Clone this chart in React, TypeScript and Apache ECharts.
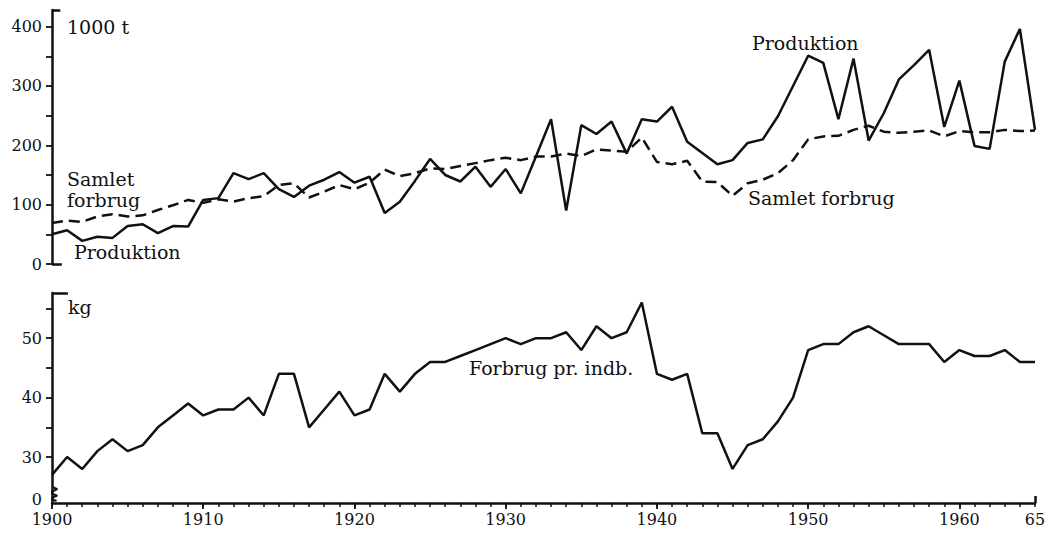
import React, { useEffect, useRef } from "react";
import * as echarts from "echarts";

const years = [
  1900, 1901, 1902, 1903, 1904, 1905, 1906, 1907, 1908, 1909,
  1910, 1911, 1912, 1913, 1914, 1915, 1916, 1917, 1918, 1919,
  1920, 1921, 1922, 1923, 1924, 1925, 1926, 1927, 1928, 1929,
  1930, 1931, 1932, 1933, 1934, 1935, 1936, 1937, 1938, 1939,
  1940, 1941, 1942, 1943, 1944, 1945, 1946, 1947, 1948, 1949,
  1950, 1951, 1952, 1953, 1954, 1955, 1956, 1957, 1958, 1959,
  1960, 1961, 1962, 1963, 1964, 1965,
];

// Produktion, 1000 t
const produktion = [
  50, 57, 39, 46, 44, 64, 67, 52, 64, 63,
  108, 111, 153, 143, 153, 126, 113, 132, 142, 155,
  137, 147, 86, 105, 140, 177, 150, 139, 164, 130,
  160, 119, 181, 244, 90, 234, 219, 240, 186, 244,
  240, 265, 206, 187, 168, 175, 204, 210, 249, 300,
  351, 339, 244, 346, 208, 254, 311, 335, 361, 231,
  309, 199, 194, 341, 396, 226,
];

// Samlet forbrug, 1000 t
const samletForbrug = [
  69, 73, 71, 80, 84, 80, 82, 91, 99, 108,
  103, 109, 105, 111, 114, 133, 136, 112, 122, 133,
  126, 137, 159, 148, 153, 161, 160, 165, 170, 175,
  179, 175, 181, 181, 186, 182, 193, 191, 189, 213,
  172, 168, 174, 139, 138, 115, 136, 142, 153, 175,
  210, 215, 216, 226, 233, 223, 221, 223, 225, 215,
  224, 222, 222, 226, 224, 225,
];

// Forbrug pr. indbygger, kg
const forbrugPrIndb = [
  27, 30, 28, 31, 33, 31, 32, 35, 37, 39,
  37, 38, 38, 40, 37, 44, 44, 35, 38, 41,
  37, 38, 44, 41, 44, 46, 46, 47, 48, 49,
  50, 49, 50, 50, 51, 48, 52, 50, 51, 56,
  44, 43, 44, 34, 34, 28, 32, 33, 36, 40,
  48, 49, 49, 51, 52, 50.5, 49, 49, 49, 46,
  48, 47, 47, 48, 46, 46,
];

const topTickLabels = [0, 100, 200, 300, 400];
const topTicks = [0, 50, 100, 150, 200, 250, 300, 350, 400];
const bottomTickLabels = [30, 40, 50];
const bottomTicks = [30, 35, 40, 45, 50, 55];
const decadeLabels = [1900, 1910, 1920, 1930, 1940, 1950, 1960, 1965];
const decades = [1900, 1910, 1920, 1930, 1940, 1950, 1960];

const TOP_MAX = 428;
const BOT_MIN = 22.27;
const BOT_MAX = 57.6;
const BOT_ZERO_LABEL = 22.85; // where the "0" of the broken axis is written

const FONT = '"DejaVu Serif", serif';
const INK = "#111";

export default function App() {
  const ref = useRef<HTMLDivElement>(null);

  useEffect(() => {
    if (!ref.current) return;
    const chart = echarts.init(ref.current, null, { renderer: "svg" });

    const tickLabel = { color: INK, fontFamily: FONT, fontSize: 16 };
    const bracketStyle = { color: INK, width: 2.5, type: "solid" as const };

    const option: any = {
      animation: false,
      backgroundColor: "#fff",
      grid: [
        { left: 52, right: 22, top: 10, height: 254 },
        { left: 52, right: 22, top: 293, height: 210 },
      ],
      xAxis: [
        { gridIndex: 0, type: "value", min: 1900, max: 1965, show: false },
        {
          gridIndex: 1, type: "value", min: 1900, max: 1965, position: "bottom",
          axisLine: { show: true, lineStyle: { color: INK, width: 2.5 } },
          axisTick: { show: true, customValues: years, length: 4, lineStyle: { color: INK, width: 1.5 } },
          axisLabel: {
            ...tickLabel, margin: 8, customValues: decadeLabels,
            formatter: (v: number) => (v === 1965 ? "65" : String(v)),
          },
          splitLine: { show: false },
        },
        {
          gridIndex: 1, type: "value", min: 1900, max: 1965, position: "bottom", offset: 0,
          axisLine: { show: false },
          axisTick: { show: true, customValues: decades, length: 6, lineStyle: { color: INK, width: 1.8 } },
          axisLabel: { show: false },
          splitLine: { show: false },
        },
        {
          gridIndex: 1, type: "value", min: 1900, max: 1965, position: "bottom", offset: 0,
          axisLine: { show: false },
          axisTick: { show: true, inside: true, customValues: [1965], length: 7, lineStyle: { color: INK, width: 2.5 } },
          axisLabel: { show: false },
          splitLine: { show: false },
        },
      ],
      yAxis: [
        {
          gridIndex: 0, type: "value", min: 0, max: TOP_MAX,
          axisLine: { show: true, lineStyle: { color: INK, width: 2.5 } },
          axisTick: { show: true, customValues: topTicks, length: 6, lineStyle: { color: INK, width: 1.8 } },
          axisLabel: { ...tickLabel, margin: 10, customValues: topTickLabels },
          splitLine: { show: false },
        },
        {
          gridIndex: 1, type: "value", min: BOT_MIN, max: BOT_MAX,
          axisLine: { show: true, lineStyle: { color: INK, width: 2.5 } },
          axisTick: { show: true, customValues: bottomTicks, length: 6, lineStyle: { color: INK, width: 1.8 } },
          axisLabel: {
            ...tickLabel, margin: 10, customValues: [BOT_ZERO_LABEL, ...bottomTickLabels],
            formatter: (v: number) => (v < 25 ? "0" : String(v)),
          },
          splitLine: { show: false },
        },
      ],
      series: [
        {
          name: "Produktion", type: "line", xAxisIndex: 0, yAxisIndex: 0,
          data: years.map((y, i) => [y, produktion[i]]),
          symbol: "none", clip: false,
          lineStyle: { color: INK, width: 2.5 },
          markLine: {
            silent: true, symbol: ["none", "none"], label: { show: false },
            lineStyle: bracketStyle,
            data: [
              [{ coord: [1900, TOP_MAX] }, { coord: [1900.55, TOP_MAX] }],
              [{ coord: [1900, 0] }, { coord: [1900.65, 0] }],
            ],
          },
        },
        {
          name: "Samlet forbrug", type: "line", xAxisIndex: 0, yAxisIndex: 0,
          data: years.map((y, i) => [y, samletForbrug[i]]),
          symbol: "none",
          lineStyle: { color: INK, width: 2.5, type: [11, 6] },
        },
        {
          name: "Forbrug pr. indb.", type: "line", xAxisIndex: 1, yAxisIndex: 1,
          data: years.map((y, i) => [y, forbrugPrIndb[i]]),
          symbol: "none", clip: false,
          lineStyle: { color: INK, width: 2.5 },
          markLine: {
            silent: true, symbol: ["none", "none"], label: { show: false },
            lineStyle: bracketStyle,
            data: [[{ coord: [1900, BOT_MAX] }, { coord: [1901.05, BOT_MAX] }]],
          },
        },
        {
          name: "break", type: "line", xAxisIndex: 1, yAxisIndex: 1,
          data: [[1900, 25.0], [1900.35, 24.6], [1899.85, 24.0], [1900.35, 23.5], [1899.85, 23.0], [1900.3, 22.6]],
          symbol: "none", clip: false, silent: true,
          lineStyle: { color: INK, width: 2 },
        },
      ],
      graphic: [
        { type: "text", x: 67, y: 27, style: { text: "1000 t", font: `19px ${FONT}`, fill: INK, verticalAlign: "middle" } },
        { type: "text", x: 68, y: 307, style: { text: "kg", font: `19px ${FONT}`, fill: INK, verticalAlign: "middle" } },
        { type: "text", x: 67, y: 179, style: { text: "Samlet", font: `19px ${FONT}`, fill: INK, verticalAlign: "middle" } },
        { type: "text", x: 67, y: 200, style: { text: "forbrug", font: `19px ${FONT}`, fill: INK, verticalAlign: "middle" } },
        { type: "text", x: 74, y: 252, style: { text: "Produktion", font: `19px ${FONT}`, fill: INK, verticalAlign: "middle" } },
        { type: "text", x: 752, y: 43, style: { text: "Produktion", font: `19px ${FONT}`, fill: INK, verticalAlign: "middle" } },
        { type: "text", x: 748, y: 198, style: { text: "Samlet forbrug", font: `19px ${FONT}`, fill: INK, verticalAlign: "middle" } },
        { type: "text", x: 469, y: 368, style: { text: "Forbrug pr. indb.", font: `19px ${FONT}`, fill: INK, verticalAlign: "middle" } },
      ],
    };

    chart.setOption(option);
    return () => chart.dispose();
  }, []);

  return (
    <div
      ref={ref}
      style={{ position: "fixed", left: 0, top: 0, width: 1057, height: 534, background: "#fff" }}
    />
  );
}
